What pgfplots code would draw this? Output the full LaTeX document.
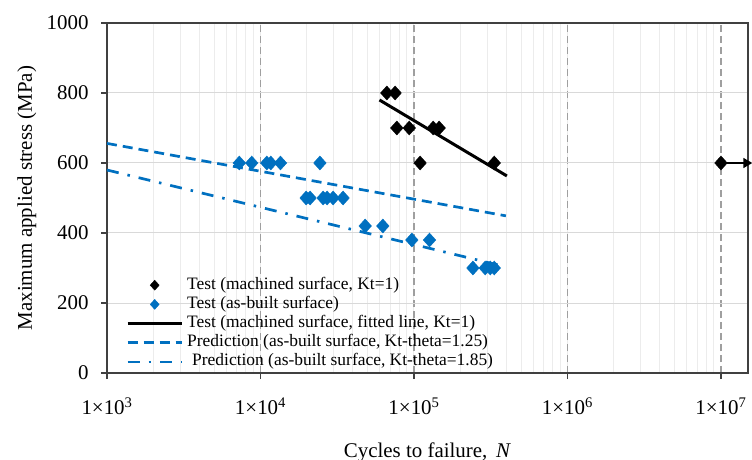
\documentclass[border=0pt]{standalone}
\usepackage{pgfplots}
\pgfplotsset{compat=1.18}
\usepackage{fontspec}
\setmainfont{Liberation Serif}
\usetikzlibrary{arrows.meta}
\definecolor{xblue}{RGB}{0,112,192}
\definecolor{axgray}{RGB}{64,64,64}
\begin{document}
\begin{tikzpicture}
\begin{axis}[
  scale only axis, width=641bp, height=350bp,
  xmode=log, xmin=1000, xmax=1.5e7,
  ymin=0, ymax=1000, ytick={0,200,...,1000},
  xtick={1e3,1e4,1e5,1e6,1e7},
  xticklabels={1×10\textsuperscript{3},1×10\textsuperscript{4},1×10\textsuperscript{5},1×10\textsuperscript{6},1×10\textsuperscript{7}},
  /pgf/number format/assume math mode=true,
  /pgf/number format/1000 sep={},
  tick label style={font=\fontsize{21}{24}\selectfont},
  xticklabel style={yshift=-15bp},
  yticklabel style={xshift=-9bp},
  label style={font=\fontsize{21}{24}\selectfont},
  xlabel style={at={(axis description cs:0.5,0)}, anchor=base, yshift=-84bp},
  ylabel style={at={(axis description cs:-0.125,0.5)}, anchor=center},
  axis line style={axgray, line width=1.3bp},
  tick style={axgray, line width=1.3bp},
  tick align=outside, tick pos=left,
  major tick length=6bp, minor tick length=0pt,
  ymajorgrids, xminorgrids, xmajorgrids,
  y grid style={gray!30, line width=1bp},
  minor x grid style={gray!15, line width=1bp},
  major x grid style={gray!75, line width=1.6bp, dash pattern=on 7bp off 4bp},
  xlabel={Cycles to failure, \,\textit{N}},
  ylabel={Maximum applied stress (MPa)},
  clip=false,
  legend cell align=left,
  legend style={draw=none, fill=none, font=\fontsize{17.5}{18}\selectfont,
    at={(axis description cs:0.025,0.28)}, anchor=north west,
    nodes={inner sep=0pt, text height=12bp, text depth=4bp}, row sep=3.2bp, column sep=4bp},
  legend image code/.code={\draw[mark repeat=2,mark phase=2,#1] plot coordinates {(0bp,0bp) (27bp,0bp) (54bp,0bp)};},
  legend image post style={mark size=5bp},
]
\addplot[only marks, mark=diamond*, mark size=7bp, mark options={xscale=1.2}, black] coordinates {
 (66530,800) (75340,800) (77300,700) (93110,700) (133400,700) (145900,700) (109600,600) (333400,600) (1e7,600)};
\addlegendentry{Test (machined surface, Kt=1)}
\addplot[only marks, mark=diamond*, mark size=7bp, mark options={xscale=1.2}, xblue] coordinates {
 (7278,600) (8770,600) (10990,600) (11670,600) (13490,600) (24380,600)
 (19830,500) (21040,500) (25590,500) (27160,500) (29720,500) (34510,500)
 (48080,420) (62660,420) (96830,380) (126200,380)
 (242100,300) (291100,300) (314100,300) (333400,300)};
\addlegendentry{Test (as-built surface)}
\addplot[black, line width=3bp] coordinates {(59600,780) (403000,563)};
\addlegendentry{Test (machined surface, fitted line, Kt=1)}
\addplot[xblue, line width=2.7bp, dash pattern=on 10bp off 6bp] coordinates {(1000,656) (397000,449)};
\addlegendentry{Prediction (as-built surface, Kt-theta=1.25)}
\addplot[xblue, line width=2.7bp, dash pattern=on 12bp off 9bp on 2.5bp off 9bp] coordinates {(1000,580) (374000,306)};
\addlegendentry{\hspace{5bp}Prediction (as-built surface, Kt-theta=1.85)}
\addplot[black, line width=1.5bp, -{Triangle[length=9bp,width=10bp]}, forget plot] coordinates {(1e7,600) (1.6e7,600)};
\end{axis}
\pgfresetboundingbox
\path[use as bounding box] ([shift={(-107bp,-87bp)}]current axis.south west) rectangle ([shift={(4bp,23bp)}]current axis.north east);
\end{tikzpicture}
\end{document}
